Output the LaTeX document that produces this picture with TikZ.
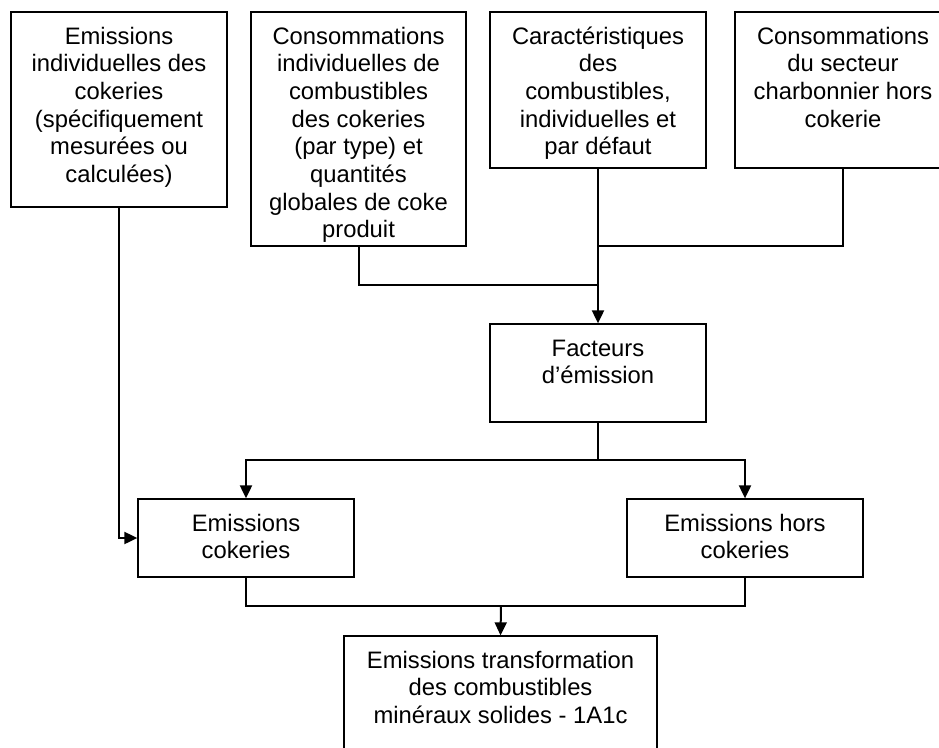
\documentclass[tikz,border=0pt]{standalone}
\usepackage{fontspec}
\setmainfont{Liberation Sans}
\usetikzlibrary{arrows.meta}

% box with top-aligned, centred lines; #1 width, #2 height
\newcommand{\boxtext}[3]{\parbox[c][#2][t]{#1}{\centering\rule{0pt}{32pt}#3}}

\begin{document}
\begin{tikzpicture}[x=1pt,y=-1pt,
  every node/.style={font=\fontsize{23.8}{27.7}\selectfont},
  flowbox/.style={draw=black,line width=1.3pt,inner sep=0pt,fill=white},
  link/.style={line width=2pt},
  arrowlink/.style={line width=2pt,-{Triangle[length=13pt,width=12pt]}}]
  \useasboundingbox (0,0) rectangle (939,747);
  \clip (0,0) rectangle (939,747);

  % input boxes
  \node[flowbox] (b1) at (119,109.5) {\boxtext{216pt}{195pt}{Emissions\\individuelles des\\cokeries\\(spécifiquement\\mesurées ou\\calculées)}};
  \node[flowbox] (b2) at (358.5,129) {\boxtext{215pt}{234pt}{Consommations\\individuelles de\\combustibles\\des cokeries\\(par type) et\\quantités\\globales de coke\\produit}};
  \node[flowbox] (b3) at (598,90) {\boxtext{216pt}{156pt}{Caractéristiques\\des\\combustibles,\\individuelles et\\par défaut}};
  \node[flowbox] (b4) at (843,90) {\boxtext{216pt}{156pt}{Consommations\\du secteur\\charbonnier hors\\cokerie}};

  % emission factors
  \node[flowbox] (fac) at (598,373) {\boxtext{216pt}{98pt}{Facteurs\\d’émission}};

  % emission boxes
  \node[flowbox] (ec) at (246,538) {\boxtext{216pt}{78pt}{Emissions\\cokeries}};
  \node[flowbox] (ehc) at (745,538) {\boxtext{236pt}{78pt}{Emissions hors\\cokeries}};

  % total
  \node[flowbox] (fin) at (500.5,701) {\boxtext{313pt}{130pt}{Emissions transformation\\des combustibles\\minéraux solides - 1A1c}};

  % junction points
  \coordinate (j1) at (598,285);
  \coordinate (j2) at (598,246);
  \coordinate (j3) at (598,460);
  \coordinate (j4) at (501,606);

  % connectors
  \draw[arrowlink] (b1.south) |- (ec.west);
  \draw[link] (b2.south) |- (j1);
  \draw[link] (b4.south) |- (j2);
  \draw[arrowlink] (b3.south) -- (fac.north);
  \draw[link] (fac.south) -- (j3);
  \draw[arrowlink] (j3) -| (ec.north);
  \draw[arrowlink] (j3) -| (ehc.north);
  \draw[link] (ec.south) |- (j4);
  \draw[link] (ehc.south) |- (j4);
  \draw[arrowlink] (j4) -- (fin.north);
\end{tikzpicture}
\end{document}
